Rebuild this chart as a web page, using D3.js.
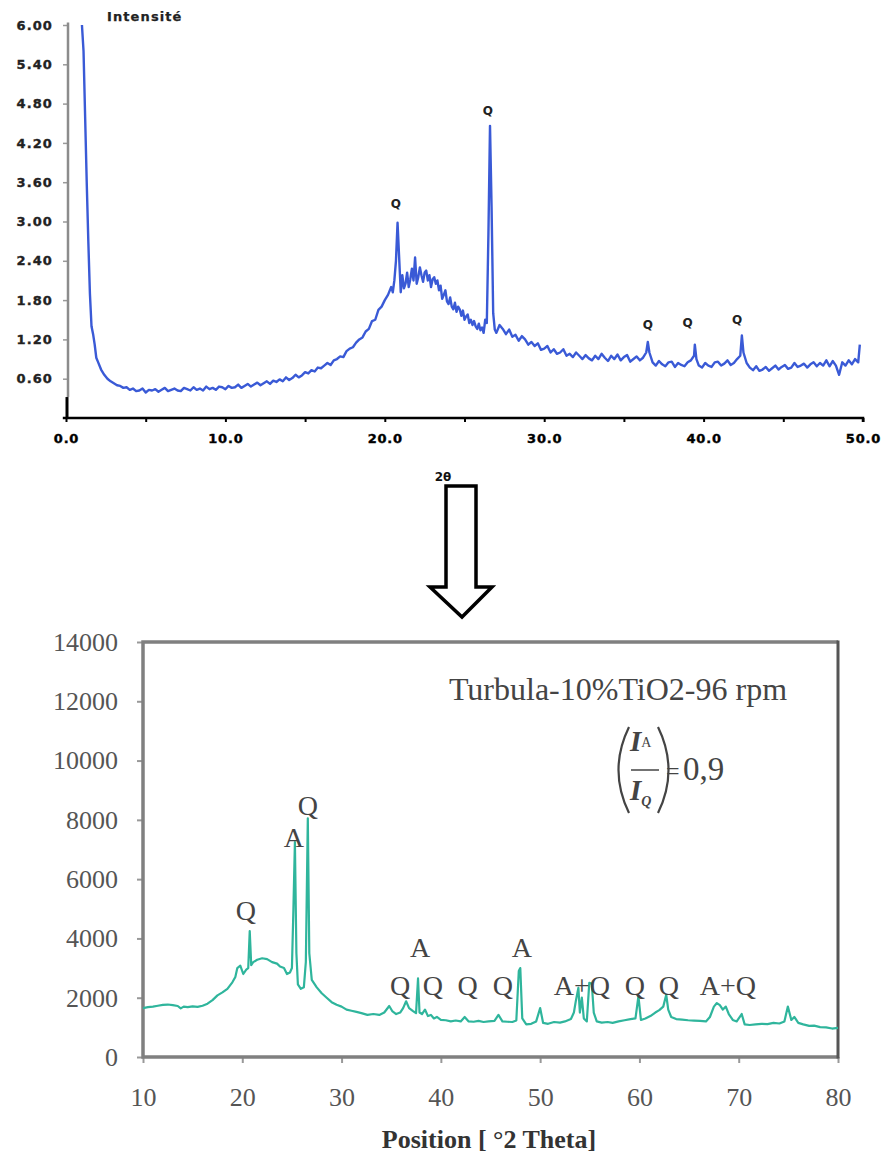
<!DOCTYPE html>
<html>
<head>
<meta charset="utf-8">
<script src="https://cdn.jsdelivr.net/npm/d3@7"></script>
<style>
  body { margin: 0; background: #fff; }
  svg { display: block; }
</style>
</head>
<body>
<svg id="chart" width="887" height="1160"></svg>
<script>
// --- top pattern (raw sample) : [2theta, intensity]
const topScan = [
  [1.0, 6.0], [1.1, 5.6], [1.2, 4.6], [1.3, 3.6], [1.4, 2.7], [1.5, 1.9], [1.6, 1.4], [1.7, 1.28],
  [1.8, 1.12], [1.9, 0.92], [2.0, 0.86], [2.2, 0.74], [2.4, 0.66],
  [2.6, 0.60], [2.8, 0.56], [3.0, 0.53], [3.2, 0.50], [3.4, 0.49], [3.6, 0.46], [3.8, 0.47], [4.0, 0.43],
  [4.2, 0.45], [4.4, 0.41], [4.6, 0.42], [4.8, 0.45], [5.0, 0.39], [5.2, 0.43], [5.4, 0.42], [5.6, 0.44],
  [5.8, 0.40], [6.0, 0.43], [6.2, 0.46], [6.4, 0.41], [6.6, 0.43], [6.8, 0.45], [7.0, 0.42], [7.2, 0.41],
  [7.4, 0.46], [7.6, 0.44], [7.8, 0.42], [8.0, 0.47], [8.2, 0.43], [8.4, 0.45], [8.6, 0.42], [8.8, 0.48],
  [9.0, 0.44], [9.2, 0.46], [9.4, 0.43], [9.6, 0.48], [9.8, 0.47], [10.0, 0.44], [10.2, 0.49], [10.4, 0.46],
  [10.6, 0.47], [10.8, 0.51], [11.0, 0.46], [11.2, 0.49], [11.4, 0.52], [11.6, 0.48], [11.8, 0.51], [12.0, 0.54],
  [12.2, 0.50], [12.4, 0.53], [12.6, 0.56], [12.8, 0.52], [13.0, 0.57], [13.2, 0.55], [13.4, 0.59], [13.6, 0.56],
  [13.8, 0.62], [14.0, 0.58], [14.2, 0.61], [14.4, 0.66], [14.6, 0.62], [14.8, 0.65], [15.0, 0.70], [15.2, 0.68],
  [15.4, 0.73], [15.6, 0.71], [15.8, 0.77], [16.0, 0.76], [16.2, 0.80], [16.4, 0.84], [16.6, 0.81], [16.8, 0.88],
  [17.0, 0.90], [17.2, 0.94], [17.4, 0.93], [17.6, 1.02], [17.8, 1.06], [18.0, 1.08], [18.2, 1.15], [18.4, 1.20],
  [18.6, 1.23], [18.8, 1.32], [19.0, 1.36], [19.2, 1.48], [19.4, 1.50], [19.6, 1.65], [19.8, 1.70], [20.0, 1.80],
  [20.2, 1.88], [20.4, 2.0], [20.5, 1.92], [20.6, 2.1], [20.7, 2.4], [20.8, 2.98], [20.9, 2.45], [21.0, 1.92],
  [21.1, 2.18], [21.2, 1.98], [21.3, 2.05], [21.4, 2.22], [21.5, 2.0], [21.6, 2.12], [21.7, 2.28], [21.8, 2.1],
  [21.9, 2.45], [22.0, 2.05], [22.1, 2.15], [22.2, 2.3], [22.3, 2.18], [22.4, 2.08], [22.5, 2.22], [22.6, 2.25],
  [22.7, 2.1], [22.8, 2.18], [22.9, 2.0], [23.0, 2.12], [23.1, 2.15], [23.2, 2.05], [23.3, 2.1], [23.4, 1.95],
  [23.5, 2.02], [23.6, 1.82], [23.7, 1.88], [23.8, 1.95], [23.9, 1.78], [24.0, 1.74], [24.1, 1.84], [24.2, 1.7],
  [24.3, 1.66], [24.4, 1.76], [24.5, 1.62], [24.6, 1.7], [24.7, 1.66], [24.8, 1.56], [24.9, 1.64], [25.0, 1.5],
  [25.1, 1.55], [25.2, 1.58], [25.3, 1.45], [25.4, 1.5], [25.5, 1.42], [25.6, 1.48], [25.7, 1.4], [25.8, 1.36],
  [25.9, 1.44], [26.0, 1.34], [26.1, 1.38], [26.2, 1.3], [26.3, 1.5], [26.4, 1.45], [26.5, 2.8], [26.6, 4.46],
  [26.7, 3.2], [26.8, 1.6], [26.9, 1.35], [27.0, 1.30], [27.2, 1.42], [27.4, 1.36], [27.6, 1.28], [27.8, 1.35],
  [28.0, 1.24], [28.2, 1.27], [28.4, 1.18], [28.6, 1.25], [28.8, 1.20], [29.0, 1.12], [29.2, 1.16], [29.4, 1.10],
  [29.6, 1.14], [29.8, 1.04], [30.0, 1.06], [30.2, 1.10], [30.4, 1.00], [30.6, 1.05], [30.8, 0.98], [31.0, 1.00],
  [31.2, 1.05], [31.4, 0.95], [31.6, 0.98], [31.8, 0.93], [32.0, 1.00], [32.2, 0.95], [32.4, 0.90], [32.6, 0.96],
  [32.8, 0.91], [33.0, 0.88], [33.2, 0.95], [33.4, 0.90], [33.6, 0.98], [33.8, 0.92], [34.0, 0.87], [34.2, 0.95],
  [34.4, 0.90], [34.6, 0.97], [34.8, 0.88], [35.0, 0.93], [35.2, 0.96], [35.4, 0.86], [35.6, 0.90], [35.8, 0.94],
  [36.0, 0.88], [36.2, 0.92], [36.4, 1.0], [36.5, 1.16], [36.6, 1.0], [36.8, 0.85], [37.0, 0.80], [37.2, 0.87],
  [37.4, 0.82], [37.6, 0.79], [37.8, 0.85], [38.0, 0.86], [38.2, 0.78], [38.4, 0.84], [38.6, 0.81], [38.8, 0.79],
  [39.0, 0.85], [39.2, 0.88], [39.4, 0.95], [39.45, 1.12], [39.55, 0.9], [39.7, 0.80], [39.9, 0.77], [40.1, 0.84],
  [40.3, 0.80], [40.5, 0.78], [40.7, 0.85], [40.9, 0.86], [41.1, 0.80], [41.3, 0.83], [41.5, 0.88], [41.7, 0.81],
  [41.9, 0.84], [42.1, 0.90], [42.3, 0.95], [42.4, 1.26], [42.5, 1.0], [42.7, 0.84], [42.9, 0.77], [43.1, 0.73],
  [43.3, 0.79], [43.5, 0.72], [43.7, 0.74], [43.9, 0.78], [44.1, 0.72], [44.3, 0.76], [44.5, 0.80], [44.7, 0.74],
  [44.9, 0.78], [45.1, 0.81], [45.3, 0.75], [45.5, 0.77], [45.7, 0.84], [45.9, 0.78], [46.1, 0.80], [46.3, 0.83],
  [46.5, 0.77], [46.7, 0.82], [46.9, 0.85], [47.1, 0.79], [47.3, 0.84], [47.5, 0.80], [47.7, 0.88], [47.9, 0.79],
  [48.1, 0.87], [48.3, 0.80], [48.5, 0.66], [48.7, 0.85], [48.9, 0.80], [49.1, 0.88], [49.3, 0.82], [49.5, 0.90],
  [49.7, 0.85], [49.8, 1.12]
]
const topTicksY = [0.6, 1.2, 1.8, 2.4, 3.0, 3.6, 4.2, 4.8, 5.4, 6.0]
const topTicksX = [0, 5, 10, 15, 20, 25, 30, 35, 40, 45, 50]
const topPeaks = [
  { label: "Q", t: 20.7, v: 3.27 },
  { label: "Q", t: 26.47, v: 4.69 },
  { label: "Q", t: 36.5, v: 1.42 },
  { label: "Q", t: 39.0, v: 1.45 },
  { label: "Q", t: 42.1, v: 1.5 },
]

// --- bottom pattern (Turbula 10% TiO2)
const botScan = [
  [10.0, 1650], [10.5, 1680], [11.0, 1700], [11.5, 1730], [12.0, 1760], [12.5, 1770], [13.0, 1750], [13.5, 1720],
  [13.8, 1640], [14.1, 1700], [14.5, 1680], [15.0, 1710], [15.5, 1690], [16.0, 1730], [16.5, 1800], [17.0, 1920],
  [17.5, 2080], [18.0, 2180], [18.5, 2300], [19.0, 2520], [19.3, 2700], [19.5, 3000], [19.8, 3080], [20.1, 2800],
  [20.4, 2950], [20.6, 3000], [20.75, 4250], [20.9, 3100], [21.1, 3200], [21.5, 3280], [22.0, 3330], [22.5, 3300],
  [23.0, 3200], [23.5, 3150], [23.8, 3050], [24.2, 3000], [24.5, 2800], [24.8, 2850], [25.0, 3000], [25.15, 5000],
  [25.3, 7250], [25.45, 3500], [25.6, 2450], [25.9, 2300], [26.2, 2350], [26.4, 3200], [26.6, 8050], [26.75, 3500],
  [27.0, 2600], [27.5, 2350], [28.0, 2150], [28.5, 2000], [29.0, 1850], [29.5, 1760], [30.0, 1700], [30.5, 1600],
  [31.0, 1560], [31.5, 1520], [32.0, 1480], [32.6, 1420], [33.2, 1450], [33.8, 1420], [34.3, 1500], [34.8, 1720],
  [35.1, 1550], [35.5, 1450], [35.9, 1500], [36.2, 1650], [36.5, 1880], [36.8, 1650], [37.2, 1550], [37.5, 1480],
  [37.7, 2650], [37.85, 1500], [38.1, 1450], [38.4, 1600], [38.7, 1380], [39.0, 1420], [39.3, 1300], [39.6, 1350],
  [40.0, 1250], [40.5, 1240], [41.0, 1200], [41.5, 1230], [42.0, 1200], [42.4, 1350], [42.8, 1200], [43.3, 1190],
  [43.8, 1220], [44.3, 1180], [44.8, 1200], [45.4, 1220], [45.8, 1420], [46.2, 1200], [46.7, 1190], [47.2, 1180],
  [47.6, 1230], [47.85, 2900], [48.0, 3000], [48.2, 1300], [48.6, 1100], [49.1, 1120], [49.6, 1200], [50.0, 1650],
  [50.3, 1150], [50.8, 1120], [51.4, 1180], [52.0, 1160], [52.5, 1200], [53.1, 1280], [53.4, 1500], [53.6, 1900],
  [53.85, 2330], [54.0, 1500], [54.2, 2000], [54.4, 1300], [54.7, 1200], [54.95, 2500], [55.2, 2480], [55.4, 1500],
  [55.7, 1200], [56.2, 1160], [56.8, 1180], [57.3, 1150], [57.9, 1200], [58.5, 1240], [59.1, 1280], [59.6, 1300],
  [59.9, 2050], [60.15, 1250], [60.6, 1300], [61.1, 1380], [61.6, 1500], [62.0, 1580], [62.4, 1700], [62.7, 2100],
  [62.9, 1600], [63.2, 1350], [63.7, 1280], [64.3, 1260], [64.9, 1240], [65.5, 1230], [66.1, 1220], [66.7, 1200],
  [67.1, 1350], [67.5, 1700], [67.8, 1820], [68.1, 1750], [68.4, 1600], [68.7, 1700], [69.0, 1450], [69.4, 1250],
  [69.8, 1200], [70.3, 1450], [70.6, 1100], [71.1, 1080], [71.7, 1100], [72.3, 1120], [72.9, 1110], [73.5, 1150],
  [74.1, 1130], [74.6, 1200], [74.95, 1700], [75.3, 1250], [75.6, 1350], [76.0, 1150], [76.5, 1100], [77.1, 1050],
  [77.6, 1060], [78.2, 1010], [78.8, 1000], [79.4, 960], [80.0, 980]
]
const botTicksY = [0, 2000, 4000, 6000, 8000, 10000, 12000, 14000]
const botTicksX = [10, 20, 30, 40, 50, 60, 70, 80]
const botPeaks = [
  { label: "Q", t: 20.37, v: 4958 },
  { label: "A", t: 25.2, v: 7420 },
  { label: "Q", t: 26.6, v: 8500 },
  { label: "Q", t: 35.9, v: 2430 },
  { label: "A", t: 37.9, v: 3710 },
  { label: "Q", t: 39.2, v: 2430 },
  { label: "Q", t: 42.7, v: 2430 },
  { label: "Q", t: 46.25, v: 2430 },
  { label: "A", t: 48.17, v: 3710 },
  { label: "A+Q", t: 54.2, v: 2430 },
  { label: "Q", t: 59.55, v: 2430 },
  { label: "Q", t: 62.97, v: 2430 },
  { label: "A+Q", t: 68.9, v: 2430 },
]

const svg = d3.select("#chart")
const boldSans = "'DejaVu Sans', sans-serif"
const serif = "'Liberation Serif', 'Times New Roman', serif"

// ================= TOP CHART =================
const xTop = d3.scaleLinear().domain([0, 50]).range([66, 863])
const yTop = d3.scaleLinear().domain([0, 6]).range([418, 25])
const gTop = svg.append("g")

// y axis (gray, with black foot)
const yAxisTop = gTop
  .append("g")
  .attr("transform", "translate(68,0)")
  .call(d3.axisLeft(yTop).tickValues(topTicksY).tickSize(5).tickPadding(10).tickFormat(d3.format(".2f")))
yAxisTop.select(".domain").remove()
yAxisTop.selectAll(".tick line").attr("stroke", "#999").attr("stroke-width", 1.5)
yAxisTop
  .selectAll(".tick text")
  .attr("font-family", boldSans)
  .attr("font-weight", "bold")
  .attr("font-size", 13)
  .attr("letter-spacing", 1.1)
  .attr("fill", "#222")
  .attr("stroke", "#222")
  .attr("stroke-width", 0.35)
gTop.append("line").attr("x1", 68).attr("x2", 68).attr("y1", yTop(6.04)).attr("y2", yTop(0.32)).attr("stroke", "#8c8c8c").attr("stroke-width", 2.5)
gTop.append("line").attr("x1", 67).attr("x2", 67).attr("y1", yTop(0.32)).attr("y2", yTop(0) + 1).attr("stroke", "#000").attr("stroke-width", 3)

// x axis
const xAxisTop = gTop
  .append("g")
  .attr("transform", `translate(0,${yTop(0)})`)
  .call(
    d3.axisBottom(xTop)
      .tickValues(topTicksX)
      .tickSize(4)
      .tickPadding(12)
      .tickFormat((d) => (d % 10 === 0 ? d3.format(".1f")(d) : ""))
  )
xAxisTop.select(".domain").attr("stroke", "#000").attr("stroke-width", 2.5).attr("d", `M${xTop(-0.2)},0H${xTop(50)}V4`)
xAxisTop.selectAll(".tick line").attr("stroke", "#000").attr("stroke-width", 2)
xAxisTop
  .selectAll(".tick text")
  .attr("font-family", boldSans)
  .attr("font-weight", "bold")
  .attr("font-size", 13)
  .attr("letter-spacing", 0.8)
  .attr("fill", "#000")
  .attr("stroke", "#000")
  .attr("stroke-width", 0.4)

gTop.append("text").attr("x", 107).attr("y", 21).attr("font-family", boldSans).attr("font-weight", "bold")
  .attr("font-size", 13).attr("letter-spacing", 1.1).attr("fill", "#222").attr("stroke", "#222")
  .attr("stroke-width", 0.25).text("Intensité")

// pattern
const lineTop = d3.line().x((d) => xTop(d[0])).y((d) => yTop(d[1]))
gTop.append("path").datum(topScan).attr("d", lineTop).attr("fill", "none")
  .attr("stroke", "#3a5ad6").attr("stroke-width", 2.4).attr("stroke-linejoin", "round")

gTop.selectAll(".peak-top").data(topPeaks).enter().append("text")
  .attr("class", "peak-top")
  .attr("x", (d) => xTop(d.t)).attr("y", (d) => yTop(d.v)).attr("dy", "0.35em")
  .attr("text-anchor", "middle").attr("font-family", boldSans).attr("font-weight", "bold")
  .attr("font-size", 12).attr("fill", "#222").text((d) => d.label)

// 2θ + arrow
svg.append("text").attr("x", 443).attr("y", 481).attr("text-anchor", "middle").attr("font-family", boldSans)
  .attr("font-weight", "bold").attr("font-size", 12).attr("fill", "#111").text("2θ")
svg.append("path")
  .attr("d", "M446,486H476V587H492L462,617L430,587H446Z")
  .attr("fill", "#fff").attr("stroke", "#000").attr("stroke-width", 3.5).attr("stroke-linejoin", "miter")

// ================= BOTTOM CHART =================
const xBot = d3.scaleLinear().domain([10, 80]).range([143, 838])
const yBot = d3.scaleLinear().domain([0, 14000]).range([1057, 642])
const gBot = svg.append("g")

const yAxisBot = gBot.append("g").attr("transform", `translate(${xBot(10)},0)`)
  .call(d3.axisLeft(yBot).tickValues(botTicksY).tickSize(6).tickPadding(19).tickFormat(d3.format("d")))
const xAxisBot = gBot.append("g").attr("transform", `translate(0,${yBot(0)})`)
  .call(d3.axisBottom(xBot).tickValues(botTicksX).tickSize(6).tickPadding(25))
;[yAxisBot, xAxisBot].forEach((a) => {
  a.select(".domain").remove()
  a.selectAll(".tick line").attr("stroke", "#999").attr("stroke-width", 2)
  a.selectAll(".tick text").attr("font-family", serif).attr("font-size", 26).attr("fill", "#555")
})

// frame
gBot.append("path")
  .attr("d", `M${xBot(80)},${yBot(14000)}H${xBot(10)}V${yBot(0)}H${xBot(80)}`)
  .attr("fill", "none").attr("stroke", "#808080").attr("stroke-width", 3.5)
gBot.append("line").attr("x1", xBot(80)).attr("x2", xBot(80)).attr("y1", yBot(14000) - 1.5).attr("y2", yBot(0) + 1.5)
  .attr("stroke", "#555").attr("stroke-width", 3)

const lineBot = d3.line().x((d) => xBot(d[0])).y((d) => yBot(d[1]))
gBot.append("path").datum(botScan).attr("d", lineBot).attr("fill", "none")
  .attr("stroke", "#2fb59c").attr("stroke-width", 2.2).attr("stroke-linejoin", "round")

gBot.selectAll(".peak-bot").data(botPeaks).enter().append("text")
  .attr("class", "peak-bot")
  .attr("x", (d) => xBot(d.t)).attr("y", (d) => yBot(d.v)).attr("dy", "0.35em")
  .attr("text-anchor", "middle").attr("font-family", serif).attr("font-size", 28)
  .attr("fill", "#444").text((d) => d.label)

gBot.append("text").attr("x", 489).attr("y", 1148).attr("text-anchor", "middle").attr("font-family", serif)
  .attr("font-weight", "bold").attr("font-size", 26).attr("fill", "#333").text("Position [ °2 Theta]")

gBot.append("text").attr("x", 618).attr("y", 700).attr("text-anchor", "middle").attr("font-family", serif)
  .attr("font-size", 32).attr("fill", "#444").text("Turbula-10%TiO2-96 rpm")

// ratio (I_A / I_Q) = 0,9
const ratio = gBot.append("g").attr("fill", "#444").attr("font-family", serif)
ratio.append("path").attr("d", "M629,727Q608,770 629,813").attr("fill", "none").attr("stroke", "#444").attr("stroke-width", 2.2)
ratio.append("path").attr("d", "M658,727Q679,770 658,813").attr("fill", "none").attr("stroke", "#444").attr("stroke-width", 2.2)
ratio.append("line").attr("x1", 631).attr("x2", 659).attr("y1", 770).attr("y2", 770).attr("stroke", "#444").attr("stroke-width", 1.5)
const ia = ratio.append("text").attr("x", 630).attr("y", 751).attr("font-size", 29).attr("font-style", "italic").attr("font-weight", "bold")
ia.append("tspan").text("I")
ia.append("tspan").attr("font-size", 14).attr("font-style", "normal").attr("font-weight", "normal").attr("dy", -4).text("A")
const iq = ratio.append("text").attr("x", 630).attr("y", 800).attr("font-size", 29).attr("font-style", "italic").attr("font-weight", "bold")
iq.append("tspan").text("I")
iq.append("tspan").attr("font-size", 14).attr("dy", 6).text("Q")
ratio.append("text").attr("x", 666).attr("y", 779).attr("font-size", 24).text("=")
ratio.append("text").attr("x", 683).attr("y", 780).attr("font-size", 33).text("0,9")
</script>
</body>
</html>
